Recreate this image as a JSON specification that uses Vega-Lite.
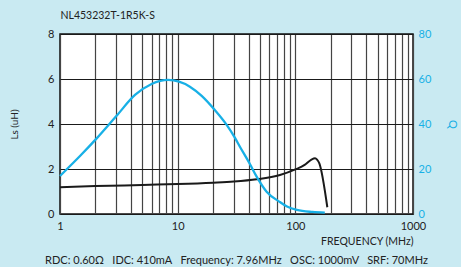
{
  "$schema": "https://vega.github.io/schema/vega-lite/v6.json",
  "width": 353,
  "height": 180,
  "autosize": {"type": "none"},
  "padding": {"left": 60, "top": 34, "right": 48, "bottom": 53},
  "background": "#c9eaf2",
  "config": {
    "view": {"fill": "white", "stroke": "#111", "strokeWidth": 1.5},
    "font": "Lato",
    "axis": {"domain": false, "ticks": false, "labelFont": "Lato", "titleFont": "Lato", "titleFontWeight": "normal"}
  },
  "title": {
    "text": "RDC: 0.60Ω\u00a0\u00a0\u00a0IDC: 410mA\u00a0\u00a0\u00a0Frequency: 7.96MHz\u00a0\u00a0\u00a0OSC: 1000mV\u00a0\u00a0\u00a0SRF: 70MHz",
    "orient": "bottom",
    "anchor": "middle",
    "fontSize": 11,
    "fontWeight": "normal",
    "font": "Lato",
    "color": "#222",
    "offset": 8
  },
  "datasets": {
    "ls": [
      {"f": 1, "v": 1.19},
      {"f": 2, "v": 1.24},
      {"f": 5, "v": 1.29},
      {"f": 10, "v": 1.33},
      {"f": 20, "v": 1.39},
      {"f": 30, "v": 1.44},
      {"f": 47, "v": 1.54},
      {"f": 74, "v": 1.73},
      {"f": 100, "v": 1.98},
      {"f": 120, "v": 2.18},
      {"f": 137, "v": 2.42},
      {"f": 147, "v": 2.48},
      {"f": 153, "v": 2.42},
      {"f": 160, "v": 2.25},
      {"f": 187, "v": 0.3}
    ],
    "q": [
      {"f": 1, "v": 16.9},
      {"f": 1.5, "v": 26.1},
      {"f": 2.05, "v": 33.6},
      {"f": 3, "v": 43.4},
      {"f": 4.34, "v": 52.9},
      {"f": 6, "v": 57.8},
      {"f": 8.3, "v": 59.6},
      {"f": 12.7, "v": 56.6},
      {"f": 16, "v": 52.5},
      {"f": 20.7, "v": 46.2},
      {"f": 26.1, "v": 39.6},
      {"f": 30.7, "v": 33.8},
      {"f": 33.8, "v": 29.9},
      {"f": 41.1, "v": 22.2},
      {"f": 46.9, "v": 16.6},
      {"f": 57, "v": 9.9},
      {"f": 73, "v": 5.5},
      {"f": 85, "v": 3.3},
      {"f": 103, "v": 1.8},
      {"f": 140, "v": 0.9},
      {"f": 178, "v": 0.6}
    ]
  },
  "layer": [
    {
      "data": {"name": "ls"},
      "mark": {"type": "line", "color": "#1a1a1a", "strokeWidth": 2, "interpolate": "monotone"},
      "encoding": {
        "x": {
          "field": "f",
          "type": "quantitative",
          "scale": {"type": "log", "domain": [1, 1000], "nice": false},
          "axis": {
            "values": [1, 2, 3, 4, 5, 6, 7, 8, 9, 10, 20, 30, 40, 50, 60, 70, 80, 90, 100, 200, 300, 400, 500, 600, 700, 800, 900, 1000],
            "labelExpr": "datum.value == 1 || datum.value == 10 || datum.value == 100 || datum.value == 1000 ? '' + datum.value : ''",
            "grid": true,
            "gridColor": "#444",
            "gridWidth": 1.2,
            "labelFontSize": 11,
            "labelColor": "#222",
            "labelPadding": 6,
            "labelFlush": false,
            "title": "FREQUENCY (MHz)",
            "titleFontSize": 10.5,
            "titleColor": "#222",
            "titleAnchor": "end",
            "titlePadding": 5
          }
        },
        "y": {
          "field": "v",
          "type": "quantitative",
          "scale": {"domain": [0, 8], "nice": false},
          "axis": {
            "values": [0, 2, 4, 6, 8],
            "grid": true,
            "gridColor": "#1a1a1a",
            "gridWidth": 1.2,
            "labelFontSize": 11,
            "labelColor": "#222",
            "labelPadding": 6,
            "title": "Ls (uH)",
            "titleFontSize": 10,
            "titleColor": "#222",
            "titlePadding": 28
          }
        }
      }
    },
    {
      "data": {"name": "q"},
      "mark": {"type": "line", "color": "#18b0e6", "strokeWidth": 2.3, "interpolate": "monotone"},
      "encoding": {
        "x": {
          "field": "f",
          "type": "quantitative",
          "axis": {
            "orient": "top",
            "labels": false,
            "grid": false,
            "title": "NL453232T-1R5K-S",
            "titleAnchor": "start",
            "titleFontSize": 10.5,
            "titleColor": "#222",
            "titlePadding": 14
          }
        },
        "y": {
          "field": "v",
          "type": "quantitative",
          "scale": {"domain": [0, 80], "nice": false},
          "axis": {
            "orient": "right",
            "values": [0, 20, 40, 60, 80],
            "grid": false,
            "labelFontSize": 11,
            "labelColor": "#18b0e6",
            "labelPadding": 5,
            "title": "Q",
            "titleFontSize": 11,
            "titleColor": "#18b0e6",
            "titlePadding": 16
          }
        }
      }
    }
  ],
  "resolve": {"scale": {"y": "independent"}, "axis": {"x": "independent"}}
}
